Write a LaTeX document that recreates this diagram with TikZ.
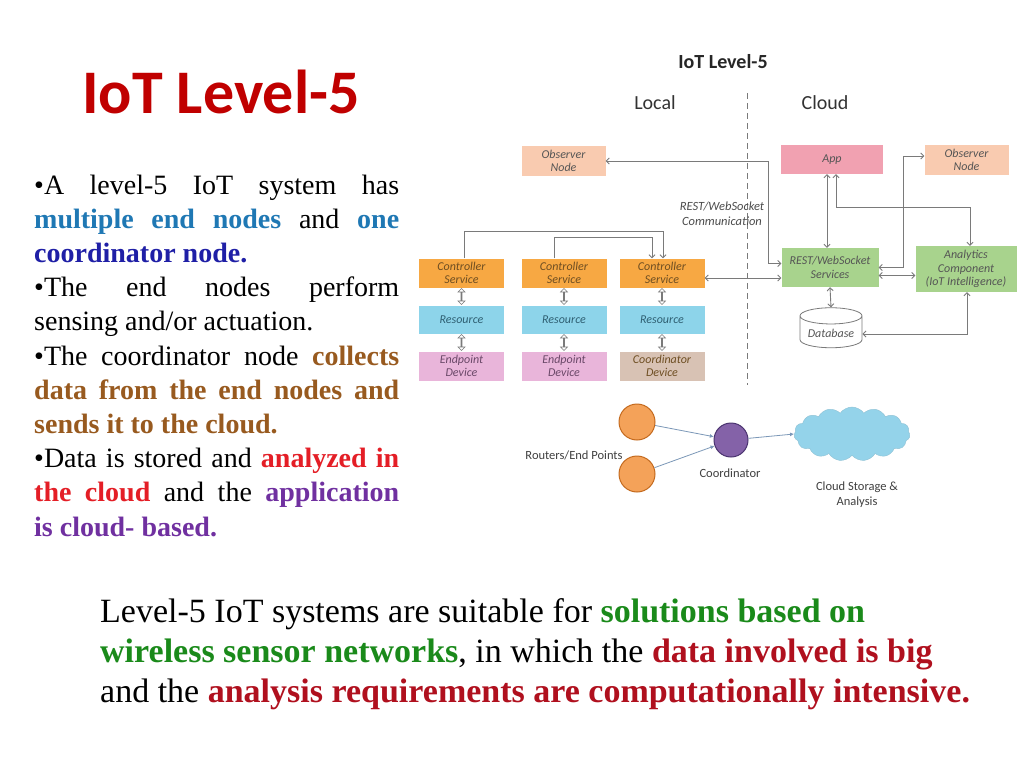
\documentclass[tikz,border=0pt]{standalone}
\usepackage{fontspec}
\setmainfont{Liberation Serif}
\newfontfamily\calfont{Carlito}
\usetikzlibrary{arrows.meta,shapes.geometric,shapes.symbols,shapes.arrows,calc}
\definecolor{csorange}{HTML}{F7A843}
\definecolor{resblue}{HTML}{8DD4EA}
\definecolor{endpink}{HTML}{E9B5DA}
\definecolor{coordtan}{HTML}{D8C2B4}
\definecolor{obspeach}{HTML}{F9CBB0}
\definecolor{apppink}{HTML}{F1A1B1}
\definecolor{grnbox}{HTML}{A8D38D}
\definecolor{lingray}{HTML}{7A7A7A}
\definecolor{txtgray}{HTML}{555555}
\definecolor{cstext}{HTML}{6E4E22}
\definecolor{restext}{HTML}{2F5F72}
\definecolor{devtext}{HTML}{6A4868}
\definecolor{orfill}{HTML}{F4A259}
\definecolor{ordraw}{HTML}{C46A1E}
\definecolor{pufill}{HTML}{8462A8}
\definecolor{pudraw}{HTML}{4B3470}
\definecolor{cloudblue}{HTML}{94D3EA}
\definecolor{netline}{HTML}{7C98B8}
\definecolor{tealblue}{HTML}{1F78B4}
\definecolor{navyT}{HTML}{1F1FA6}
\definecolor{brownT}{HTML}{985A1F}
\definecolor{redT}{HTML}{E41E26}
\definecolor{purpleT}{HTML}{7030A0}
\definecolor{titlered}{HTML}{C00000}
\definecolor{greenT}{HTML}{1A8A1A}
\definecolor{darkredT}{HTML}{B0101E}
\begin{document}
\begin{tikzpicture}[x=1pt,y=-1pt,
  blk/.style={inner sep=0pt, align=center, text=txtgray, font=\calfont\itshape\fontsize{12}{13.5}\selectfont},
  csbox/.style={blk, fill=csorange, text=cstext, minimum width=85pt, minimum height=29pt},
  resbox/.style={blk, fill=resblue, text=restext, minimum width=85pt, minimum height=28pt},
  devbox/.style={blk, fill=endpink, text=devtext, minimum width=85pt, minimum height=29pt},
  obsbox/.style={blk, fill=obspeach, minimum width=84pt, minimum height=30pt},
  grbox/.style={blk, fill=grnbox},
  conn/.style={draw=lingray, line width=0.9pt, {Straight Barb[length=3pt,width=6pt]}-{Straight Barb[length=3pt,width=6pt]}},
  onew/.style={draw=lingray, line width=0.9pt, -{Straight Barb[length=3pt,width=6pt]}},
  fat/.style={double arrow, draw=lingray, fill=white, line width=0.6pt, minimum width=7pt, minimum height=16pt,
              double arrow head extend=2pt, double arrow head indent=0pt, inner sep=0pt, rotate=90},
  lbl/.style={inner sep=0pt, text=black!75, font=\calfont\fontsize{12.5}{15}\selectfont, align=center},
  net/.style={draw=netline, line width=0.8pt, -{Latex[length=4pt,width=4pt]}},
  orc/.style={circle, draw=ordraw, line width=1pt, fill=orfill, minimum size=36pt, inner sep=0pt}
]
\useasboundingbox (0,0) rectangle (1029,771);
\fill[white] (0,0) rectangle (1029,771);

% ---- left side text ----
\node[anchor=base, inner sep=0pt, text=titlered, font=\calfont\bfseries\fontsize{62}{70}\selectfont] (title) at (221,113) {IoT Level-5};

\node[anchor=base west, text width=365pt, align=justify, inner sep=0pt,
      font=\fontsize{28}{34.2}\selectfont] (bullets) at (34,194)
{\hyphenpenalty=10000\exhyphenpenalty=10000\tolerance=9999
•A level-5 IoT system has\linebreak
\textcolor{tealblue}{\textbf{multiple end nodes}} and \textcolor{tealblue}{\textbf{one}}\linebreak
\textcolor{navyT}{\textbf{coordinator node.}}\par
•The end nodes perform\linebreak
sensing and/or actuation.\par
•The coordinator node \textcolor{brownT}{\textbf{collects}}\linebreak
\textcolor{brownT}{\textbf{data from the end nodes and}}\linebreak
\textcolor{brownT}{\textbf{sends it to the cloud.}}\par
•Data is stored and \textcolor{redT}{\textbf{analyzed in}}\linebreak
\textcolor{redT}{\textbf{the cloud}} and the \textcolor{purpleT}{\textbf{application}}\linebreak
\textcolor{purpleT}{\textbf{is cloud- based.}}\par};

% ---- bottom text ----
\node[anchor=base west, inner sep=0pt, font=\fontsize{34}{40}\selectfont] (b1) at (100,622)
  {Level-5 IoT systems are suitable for \textcolor{greenT}{\textbf{solutions based on}}};
\node[anchor=base west, inner sep=0pt, font=\fontsize{34}{40}\selectfont] (b2) at (100,662)
  {\textcolor{greenT}{\textbf{wireless sensor networks}}, in which the \textcolor{darkredT}{\textbf{data involved is big}}};
\node[anchor=base west, inner sep=0pt, font=\fontsize{34}{40}\selectfont] (b3) at (100,702)
  {and the \textcolor{darkredT}{\textbf{analysis requirements are computationally intensive.}}};

% ---- diagram headings ----
\node[inner sep=0pt, font=\calfont\bfseries\fontsize{20}{22}\selectfont, text=black!85] (dtitle) at (723,62) {IoT Level-5};
\node[inner sep=0pt, font=\calfont\fontsize{20}{22}\selectfont, text=black!80] (local) at (655,103) {Local};
\node[inner sep=0pt, font=\calfont\fontsize{20}{22}\selectfont, text=black!80] (cloudh) at (825,103) {Cloud};
\coordinate (dtop) at (747,93);
\coordinate (dbot) at (747,385);
\draw[lingray, line width=0.8pt, dash pattern=on 6pt off 4pt] (dtop) -- (dbot);
\node[blk, text=black!70, font=\calfont\itshape\fontsize{12.5}{15}\selectfont] (restlbl) at (722,214) {REST/WebSocket\\Communication};

% ---- local columns ----
\node[csbox] (cs1) at (461.5,273) {Controller\\Service};
\node[csbox] (cs2) at (564,273) {Controller\\Service};
\node[csbox] (cs3) at (662,273) {Controller\\Service};
\node[resbox] (r1) at (461.5,319.5) {Resource};
\node[resbox] (r2) at (564,319.5) {Resource};
\node[resbox] (r3) at (662,319.5) {Resource};
\node[devbox] (d1) at (461.5,366) {Endpoint\\Device};
\node[devbox] (d2) at (564,366) {Endpoint\\Device};
\node[devbox, fill=coordtan, text=cstext] (d3) at (662,366) {Coordinator\\Device};

\node[fat] (a1) at ($(cs1.south)!0.5!(r1.north)$) {};
\node[fat] (a2) at ($(cs2.south)!0.5!(r2.north)$) {};
\node[fat] (a3) at ($(cs3.south)!0.5!(r3.north)$) {};
\node[fat] (a4) at ($(r1.south)!0.5!(d1.north)$) {};
\node[fat] (a5) at ($(r2.south)!0.5!(d2.north)$) {};
\node[fat] (a6) at ($(r3.south)!0.5!(d3.north)$) {};

\draw[onew] ([xshift=3pt]cs1.north) -- ++(0,-27) -| ([xshift=1pt]cs3.north);
\draw[onew] ([xshift=-10pt]cs2.north) -- ++(0,-21) -| ([xshift=-10pt]cs3.north);

% ---- cloud side ----
\node[obsbox] (obsL) at (563.5,161) {Observer\\Node};
\node[blk, fill=apppink, minimum width=102pt, minimum height=29pt] (app) at (832,159.5) {App};
\node[obsbox] (obsR) at (966.5,160) {Observer\\Node};
\node[grbox, minimum width=97pt, minimum height=39pt] (rest) at (830,267.5) {REST/WebSocket\\Services};
\node[grbox, minimum width=101pt, minimum height=46pt] (ana) at (966,269) {Analytics\\Component\\(IoT Intelligence)};
\node[blk, cylinder, shape border rotate=90, aspect=0.35, draw=lingray, line width=0.8pt, fill=white,
      minimum width=62pt, minimum height=40pt] (db) at (831,332) {\\[-2pt]Database};

\draw[conn] ([yshift=-5pt]cs3.east) -- ([yshift=-5pt]cs3.east -| rest.west);
\draw[conn] (obsL.east) -| ($(rest.west)+(-13,-4)$) -- ($(rest.west)+(0,-4)$);
\draw[conn] ([xshift=-5pt]app.south) -- ([xshift=-3pt]rest.north);
\draw[conn] ([xshift=4pt]app.south) |- ($(ana.north)+(4,-38)$) -- ([xshift=4pt]ana.north);
\draw[conn] (rest.east) -| ($(rest.east)+(25,0)$) |- ([yshift=4pt]obsR.west);
\draw[conn] ([yshift=-8pt]rest.east) -- ([yshift=-8pt]rest.east -| ana.west);
\draw[conn] (rest.south) -- (db.north);
\draw[conn] ([yshift=-2pt]db.east) -| ([xshift=1pt]ana.south);

% ---- network sketch ----
\node[orc] (c1) at (637,422) {};
\node[orc] (c2) at (637,474) {};
\node[circle, draw=pudraw, line width=1pt, fill=pufill, minimum size=34pt, inner sep=0pt] (co) at (731,440) {};
\node[cloud, cloud puffs=15, cloud puff arc=110, aspect=2.2, fill=cloudblue, draw=cloudblue!80!gray,
      minimum width=116pt, minimum height=54pt, inner sep=0pt] (cl) at (852,434) {};
\draw[net] (c1) -- (co);
\draw[net] (c2) -- (co);
\draw[net] (co) -- (cl.west);
\node[lbl] (rlbl) at (574,455) {Routers/End Points};
\node[lbl] (colbl) at (730,473) {Coordinator};
\node[lbl] (cllbl) at (857,495) {Cloud Storage \&\\Analysis};
\end{tikzpicture}
\end{document}
